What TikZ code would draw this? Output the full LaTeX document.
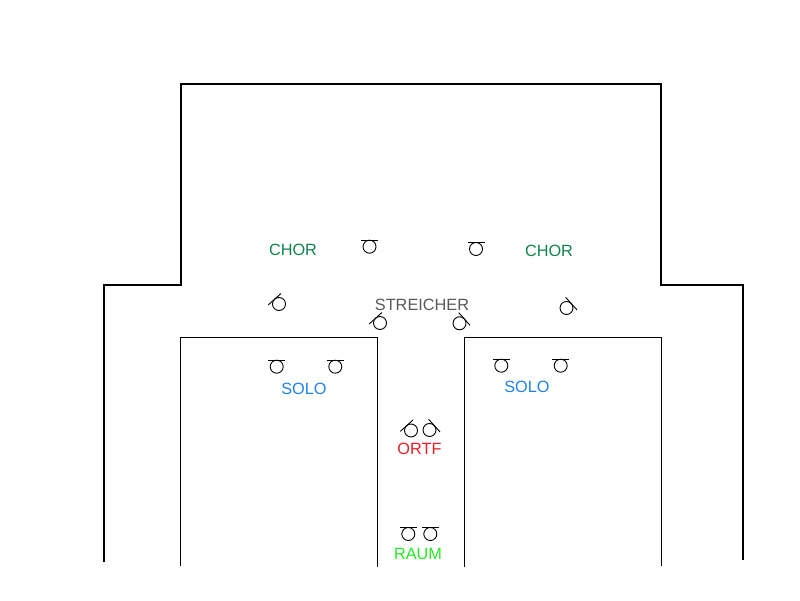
\documentclass[tikz,border=0pt]{standalone}
\usepackage{fontspec}
\setmainfont{Liberation Sans}
\definecolor{chorcolor}{RGB}{15,130,80}
\definecolor{streichercolor}{RGB}{90,90,90}
\definecolor{solocolor}{RGB}{30,130,230}
\definecolor{ortfcolor}{RGB}{230,30,40}
\definecolor{raumcolor}{RGB}{40,230,40}
\tikzstyle{wall}=[draw, line width=2pt]
\tikzstyle{riser}=[draw, line width=1pt]
\tikzstyle{mic}=[draw, circle, line width=0.9pt, inner sep=0pt, minimum size=13pt]
\tikzstyle{grouplabel}=[font=\fontsize{16.3}{16}\selectfont, inner sep=0pt]
% name, position, direction of the capsule
\newcommand{\mic}[3]{
\node [mic] (#1) at (#2) {};
\draw [line width=0.9pt] (#1) ++(#3:6.5) ++(#3+90:8.5) -- ++(#3-90:17);
}

\begin{document}
\begin{tikzpicture}[x=1pt,y=1pt]
\useasboundingbox (0,0) rectangle (800,600);

% hall
\draw [wall] (104,38) -- (104,315) -- (181,315) -- (181,516) -- (661,516) -- (661,315) -- (743,315) -- (743,40);
\draw [riser] (180.5,34) -- (180.5,262.5) -- (377.5,262.5) -- (377.5,33);
\draw [riser] (464.5,33) -- (464.5,262.5) -- (661,262.5) -- (661,34);

% groups
\node [grouplabel, text=chorcolor] (chorleft) at (293,350) {CHOR};
\node [grouplabel, text=chorcolor] (chorright) at (549,349) {CHOR};
\node [grouplabel, text=streichercolor] (streicher) at (422,295) {STREICHER};
\node [grouplabel, text=solocolor] (sololeft) at (304,211) {SOLO};
\node [grouplabel, text=solocolor] (soloright) at (527,213) {SOLO};
\node [grouplabel, text=ortfcolor] (ortf) at (419.5,151) {ORTF};
\node [grouplabel, text=raumcolor] (raum) at (418,46) {RAUM};

% microphones
\mic{chormicleft}{369.5,353.3}{90}
\mic{chormicright}{476,351}{90}
\mic{streichermica}{279,296}{132}
\mic{streichermicb}{380,277}{132}
\mic{streichermicc}{459.5,276.7}{42}
\mic{streichermicd}{566.5,292}{42}
\mic{solomica}{276.7,233.3}{90}
\mic{solomicb}{335.3,233.3}{90}
\mic{solomicc}{501.3,234.3}{90}
\mic{solomicd}{560.7,234.3}{90}
\mic{ortfmicleft}{411,169.5}{132}
\mic{ortfmicright}{429.5,170}{42}
\mic{raummicleft}{408.3,66}{90}
\mic{raummicright}{430.3,66}{90}

\end{tikzpicture}
\end{document}
